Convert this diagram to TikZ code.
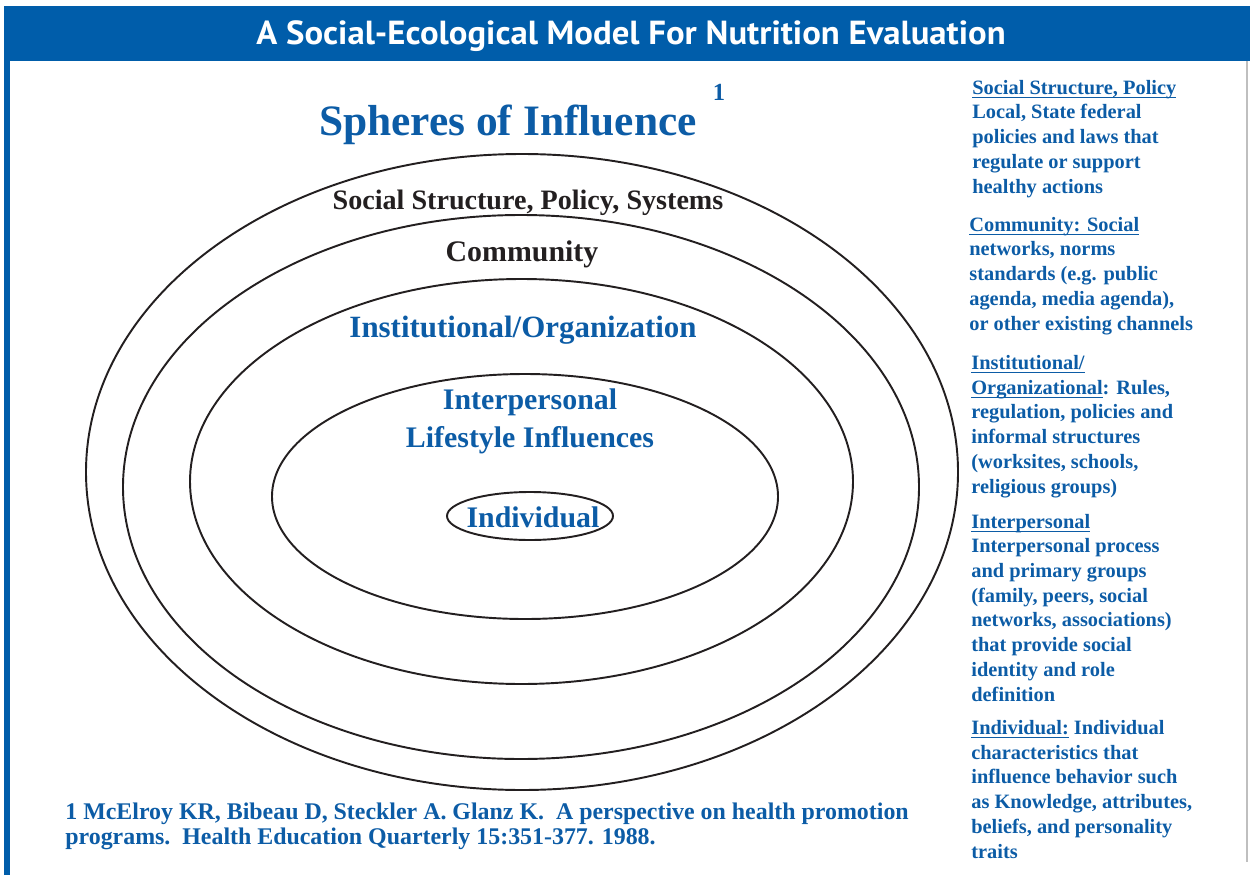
\documentclass[tikz,border=0pt]{standalone}
\usepackage{fontspec}
\usepackage{graphicx}
\setmainfont{Liberation Serif}
\newfontfamily\bannerfont{PT Sans}

\definecolor{banner}{RGB}{0,93,170}
\definecolor{inkblue}{RGB}{12,92,166}
\definecolor{inkdark}{RGB}{35,31,32}

% underline at a fixed depth
\newcommand\undl[1]{{\setbox0\hbox{#1}\rlap{\rule[-2.2pt]{\wd0}{0.75pt}}\box0}}

\tikzset{
  ring/.style={draw=inkdark, line width=1.1pt},
  sphere/.style={anchor=base, inner sep=0pt, text=inkblue,
    font=\bfseries\fontsize{17}{20}\selectfont},
  % anchored at the baseline of the last line
  sidenote/.style={anchor=base west, align=left, inner sep=0pt, text=inkblue,
    font=\bfseries\fontsize{11.6}{14.06}\selectfont},
}

\begin{document}
\begin{tikzpicture}[x=0.02cm, y=-0.02cm]
\useasboundingbox (0,0) rectangle (1250,875);

% frame and banner
\fill[banner] (4,6) rectangle (1250,61);
\fill[banner] (4,6) rectangle (10,875);
\draw[black!25, line width=0.6pt] (1247,61) -- (1247,862);
\node[text=white, font=\bannerfont\bfseries\fontsize{19}{23}\selectfont] (banner) at (631,36)
  {\scalebox{1.04}[1]{A Social-Ecological Model For Nutrition Evaluation}};

% heading
\node[sphere, font=\bfseries\fontsize{24.7}{28}\selectfont] (spheres) at (508,135) {Spheres of Influence};
\node[sphere, font=\bfseries\fontsize{14}{16}\selectfont] (fnmark) at (719,100) {1};

% the rings, outer to inner
\coordinate (policyc) at (522,472);
\coordinate (communityc) at (521,487);
\coordinate (institutionc) at (521.5,481.5);
\coordinate (interpersonalc) at (525,496.5);
\coordinate (individualc) at (530,516);

\draw[ring] (policyc) ellipse [x radius=436, y radius=318];
\draw[ring] (communityc) ellipse [x radius=398, y radius=272];
\draw[ring] (institutionc) ellipse [x radius=331.5, y radius=202.5];
\draw[ring] (interpersonalc) ellipse [x radius=253, y radius=122.5];
\draw[ring] (individualc) ellipse [x radius=83, y radius=24];

% ring labels
\node[sphere, text=inkdark, font=\bfseries\fontsize{16}{19}\selectfont] (policy) at (528,209) {Social Structure, Policy, Systems};
\node[sphere, text=inkdark] (community) at (522,261) {Community};
\node[sphere, font=\bfseries\fontsize{17.6}{20}\selectfont] (institution) at (523,337) {Institutional/Organization};
\node[sphere] (interpersonal) at (530,409) {Interpersonal};
\node[sphere] (lifestyle) at (530,447) {Lifestyle Influences};
\node[sphere] (individual) at (533,527) {Individual};

% notes on the right
\node[sidenote] (notepolicy) at (972,193) {\undl{Social Structure, Policy}\\Local, State federal\\policies and laws that\\regulate or support\\healthy actions};
\node[sidenote] (notecommunity) at (969,330) {\undl{Community: Social}\\networks, norms\\standards (e.g. public\\agenda, media agenda),\\or other existing channels};
\node[sidenote] (noteinstitution) at (971,493) {\undl{Institutional/}\\\undl{Organizational}: Rules,\\regulation, policies and\\informal structures\\(worksites, schools,\\religious groups)};
\node[sidenote] (noteinterpersonal) at (971,701) {\undl{Interpersonal}\\Interpersonal process\\and primary groups\\(family, peers, social\\networks, associations)\\that provide social\\identity and role\\definition};
\node[sidenote] (noteindividual) at (971,858) {\undl{Individual:} Individual\\characteristics that\\influence behavior such\\as Knowledge, attributes,\\beliefs, and personality\\traits};

% reference
\node[sidenote, font=\bfseries\fontsize{13.6}{14.2}\selectfont] (reference) at (65,844) {1 McElroy KR, Bibeau D, Steckler A. Glanz K.\ \ A perspective on health promotion\\programs.\ \ Health Education Quarterly 15:351-377. 1988.};

\end{tikzpicture}
\end{document}
